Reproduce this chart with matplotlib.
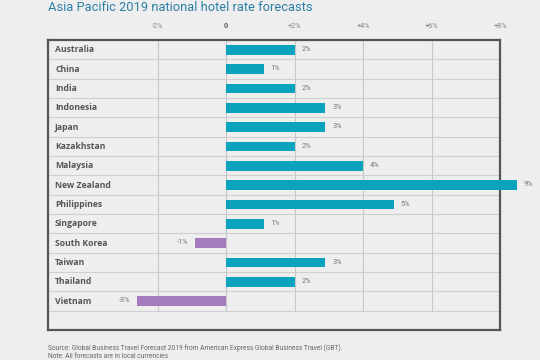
import matplotlib
matplotlib.use("Agg")
import matplotlib.pyplot as plt

countries = ["Australia", "China", "India", "Indonesia", "Japan", "Kazakhstan",
             "Malaysia", "New Zealand", "Philippines", "Singapore", "South Korea",
             "Taiwan", "Thailand", "Vietnam"]
values = [2.0, 1.1, 2.0, 2.9, 2.9, 2.0, 4.0, 8.5, 4.9, 1.1, -0.9, 2.9, 2.0, -2.6]
value_labels = ["2%", "1%", "2%", "3%", "3%", "2%", "4%", "9%", "5%", "1%",
                "-1%", "3%", "2%", "-3%"]
tick_values = [-2, 0, 2, 4, 6, 8]
tick_labels = ["-2%", "0", "+2%", "+4%", "+6%", "+8%"]

plt.rcParams['font.family'] = ['Roboto', 'DejaVu Sans']

BG = "#eeeeee"
TEAL = "#0aa3bd"
PURPLE = "#a47bbf"

fig = plt.figure(figsize=(5.4, 3.6), dpi=100)
fig.patch.set_facecolor(BG)
W, H = 540, 360
ax = fig.add_axes([48 / W, 1 - 330 / H, (500 - 48) / W, (330 - 40) / H])
ax.set_facecolor(BG)

n = len(countries)
ax.set_xlim(-5.2, 8)
ax.set_ylim(n + 0.5, -0.5)

# grid
for k in range(n):
    ax.axhline(k + 0.5, color="#cfcfcf", lw=0.8, zorder=1)
for t in tick_values[:-1]:
    ax.plot([t, t], [-0.5, n - 0.5], color="#c8c8c8", lw=0.8, zorder=1)

ypos = list(range(n))
colors = [TEAL if v >= 0 else PURPLE for v in values]
ax.barh(ypos, values, height=0.5, color=colors, zorder=3, clip_on=False)

for y, v, lab in zip(ypos, values, value_labels):
    if v >= 0:
        ax.annotate(lab, (v, y), xytext=(5, 0), textcoords="offset points",
                    ha="left", va="center", fontsize=5.3, color="#777777",
                    annotation_clip=False)
    else:
        ax.annotate(lab, (v, y), xytext=(-5, 0), textcoords="offset points",
                    ha="right", va="center", fontsize=5.3, color="#777777",
                    annotation_clip=False)

for y, c in zip(ypos, countries):
    ax.text(7 / (500 - 48), y, c, transform=ax.get_yaxis_transform(),
            ha="left", va="center", fontsize=6.2, fontweight="bold",
            color="#555555", family=["Open Sans", "DejaVu Sans"])

ax.set_yticks([])
ax.set_xticks(tick_values)
ax.set_xticklabels(tick_labels)
ax.xaxis.tick_top()
ax.tick_params(axis="x", length=0, pad=7, labelsize=5.2, labelcolor="#888888")
for lab in ax.get_xticklabels():
    if lab.get_text() == "0":
        lab.set_fontweight("bold")
        lab.set_color("#555555")

for s in ax.spines.values():
    s.set_color("#555555")
    s.set_linewidth(1.6)

fig.text(48 / W, 1 - 11 / H, "Asia Pacific 2019 national hotel rate forecasts",
         fontsize=9.3, color="#2b7fa6", ha="left", va="baseline")
fig.text(48 / W, 1 - 348 / H,
         "Source: Global Business Travel Forecast 2019 from American Express Global Business Travel (GBT).",
         fontsize=4.8, color="#666666", ha="left", va="center")
fig.text(48 / W, 1 - 356 / H, "Note: All forecasts are in local currencies",
         fontsize=4.8, color="#666666", ha="left", va="center")

fig.savefig("out.png", dpi=100, facecolor=BG)
